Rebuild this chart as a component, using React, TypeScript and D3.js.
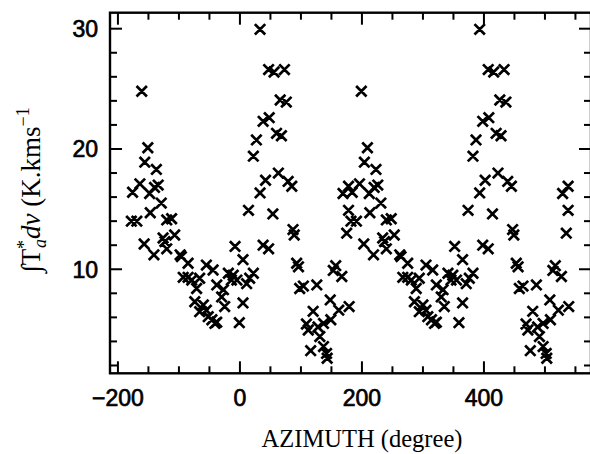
import React from "react";
import { scaleLinear, range } from "d3";

// base measurements, azimuth -180..180 (the plot repeats them at +360)
const azimuthDeg = [
  -178, -169, -176, -164, -161, -157, -156, -151, -148, -147, -141, -140, -137, -134, -129,
  -126, -123, -120, -120, -112, -107, -98, -96, -93, -85, -85, -79, -74, -71, -66, -66, -60,
  -55, -55, -52, -46, -44, -41, -38, -38, -30, -27, -25, -19, -14, -11, -8, -5, -1, 5, 5, 11,
  14, 16, 22, 22, 27, 33, 33, 38, 38, 42, 47, 48, 47, 54, 56, 60, 63, 66, 68, 73, 76, 79, 85,
  87, 89, 93, 96, 98, 104, 109, 112, 116, 120, 126, 128, 131, 137, 137, 142, 143, 148, 149,
  153, 157, 162, 167, 169, 175, 178, 178, 179,
];
const integratedT = [
  14.0, 14.0, 16.4, 17.1, 24.8, 12.1, 18.9, 20.1, 16.3, 14.7, 11.2, 16.8, 18.3, 17.0, 15.5,
  12.6, 12.3, 14.1, 11.7, 14.2, 12.85, 11.2, 11.05, 9.33, 10.5, 9.33, 9.1, 7.3, 8.4, 9.25, 6.47,
  7.03, 10.35, 6.6, 6.06, 5.8, 9.94, 5.5, 8.7, 5.6, 7.7, 8.3, 6.9, 9.67, 9.1, 9.5, 11.9, 9.1,
  5.56, 10.8, 7.2, 8.8, 14.9, 9.25, 9.67, 19.4, 20.75, 29.95, 16.35, 22.3, 12.0, 17.4, 11.7,
  22.6, 26.6, 14.6, 26.4, 21.3, 18.0, 24.07, 21.1, 26.6, 23.9, 17.3, 16.9, 13.3, 12.85, 10.5,
  10.2, 8.4, 8.6, 5.45, 4.95, 3.23, 6.5, 8.7, 5.2, 4.4, 5.5, 3.57, 3.0, 2.6, 7.45, 5.8, 9.9,
  10.3, 6.6, 9.4, 16.3, 13.0, 14.9, 16.9, 6.9,
];
const repeatShifts = [0, 360];

const xMajorTicks = [-200, 0, 200, 400];
const xMinorTicks = range(-200, 551, 50);
const yMajorTicks = [10, 20, 30];
const yMinorTicks = range(2, 31, 2);

const W = 590;
const H = 454;

export default function App() {
  const x = scaleLinear().domain([-213, 575.5]).range([110, 591]);
  const y = scaleLinear().domain([1.35, 31.33]).range([373.3, 12.7]);
  const [x0, x1] = x.range();
  const [yb, yt] = y.range();

  const pts = repeatShifts.flatMap((s) =>
    azimuthDeg.map((a, i) => ({ a: a + s, v: integratedT[i] }))
  );
  const r = 5.2;
  const crosses = pts
    .map((p) => {
      const cx = x(p.a);
      const cy = y(p.v);
      return `M${cx - r},${cy - r}L${cx + r},${cy + r}M${cx - r},${cy + r}L${cx + r},${cy - r}`;
    })
    .join("");

  const numFont = { fontFamily: "'Liberation Sans', Arial, sans-serif", fontSize: 23 };
  const serif = "'Liberation Serif', 'Times New Roman', serif";

  return (
    <div style={{ position: "absolute", left: 0, top: 0 }}>
      <svg width={W} height={H} style={{ display: "block", background: "#fff" }}>
        {/* frame */}
        <rect x={x0} y={yt} width={x1 - x0} height={yb - yt} fill="none" stroke="#000" strokeWidth={2.4} />

        {/* x ticks, bottom and top */}
        {xMinorTicks.map((t) => {
          const len = xMajorTicks.includes(t) ? 12 : 7;
          return (
            <g key={"xt" + t} stroke="#000" strokeWidth={2}>
              <line x1={x(t)} x2={x(t)} y1={yb} y2={yb - len} />
              <line x1={x(t)} x2={x(t)} y1={yt} y2={yt + len} />
            </g>
          );
        })}
        {/* y ticks, left and right */}
        {yMinorTicks.map((t) => {
          const len = yMajorTicks.includes(t) ? 12 : 7;
          return (
            <g key={"yt" + t} stroke="#000" strokeWidth={2}>
              <line x1={x0} x2={x0 + len} y1={y(t)} y2={y(t)} />
              <line x1={x1} x2={x1 - len} y1={y(t)} y2={y(t)} />
            </g>
          );
        })}

        {/* tick labels */}
        {xMajorTicks.map((t) => (
          <text key={"xl" + t} x={x(t)} y={406} textAnchor="middle" {...numFont} stroke="#000" strokeWidth={0.7}>
            {t < 0 ? "\u2212" + Math.abs(t) : t}
          </text>
        ))}
        {yMajorTicks.map((t) => (
          <text key={"yl" + t} x={98} y={y(t) + 8.5} textAnchor="end" {...numFont} stroke="#000" strokeWidth={0.7}>
            {t}
          </text>
        ))}

        {/* markers */}
        <path d={crosses} fill="none" stroke="#000" strokeWidth={2.7} />

        {/* axis titles */}
        <text x={362} y={447} textAnchor="middle" fontFamily={serif} fontSize={26} textLength={201} lengthAdjust="spacingAndGlyphs">
          AZIMUTH (degree)
        </text>
        <text
          transform="translate(40,190) rotate(-90)"
          textAnchor="middle"
          fontFamily={serif}
          fontSize={27}
        >
          <tspan>∫T</tspan>
          <tspan fontSize={18} dy={-10}>*</tspan>
          <tspan fontSize={18} fontStyle="italic" dx={-8} dy={16}>a</tspan>
          <tspan fontStyle="italic" dy={-6}>dv</tspan>
          <tspan> (K.kms</tspan>
          <tspan fontSize={18} dy={-11}>−1</tspan>
        </text>
      </svg>
    </div>
  );
}
